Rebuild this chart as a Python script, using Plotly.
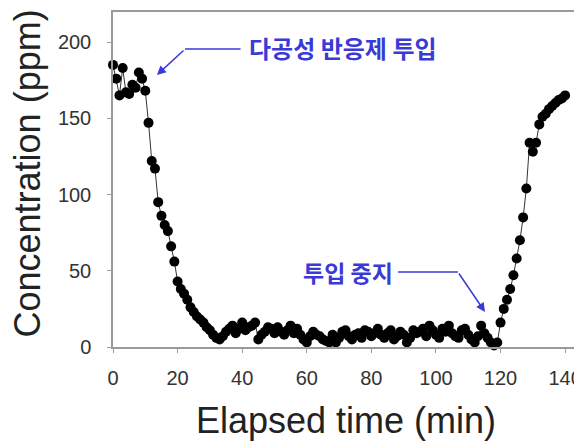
import plotly.graph_objects as go

# Elapsed time (min)
time_min = list(range(0, 141))

# Concentration (ppm)
conc_ppm = [
    185, 176, 165, 183, 167, 166, 172, 170, 180, 176,  # 0-9
    168, 147, 122, 117, 95, 86, 80, 76, 66, 56,        # 10-19
    43, 38, 35, 31, 26, 23, 20, 18, 16, 13,            # 20-29
    11, 8, 6, 5, 7, 10, 12, 14, 9, 12,                 # 30-39
    16, 11, 13, 14, 16, 5, 8, 10, 13, 12,              # 40-49
    9, 13, 10, 8, 11, 14, 9, 12, 8, 5,                 # 50-59
    3, 7, 10, 8, 7, 5, 4, 3, 8, 3,                     # 60-69
    6, 10, 11, 7, 5, 8, 9, 6, 11, 10,                  # 70-79
    7, 9, 12, 8, 6, 9, 11, 5, 7, 10,                   # 80-89
    8, 3, 6, 11, 9, 10, 12, 7, 14, 11,                 # 90-99
    8, 6, 12, 10, 14, 9, 7, 6, 11, 12,                 # 100-109
    8, 5, 3, 7, 14, 9, 6, 3, 1, 3,                     # 110-119
    16, 25, 31, 38, 47, 58, 70, 85, 104, 134,          # 120-129
    128, 134, 146, 151, 153, 156, 158, 160, 162, 163,  # 130-139
    165,                                               # 140
]

x_ticks = [0, 20, 40, 60, 80, 100, 120, 140]
y_ticks = [0, 50, 100, 150, 200]

x_title = "Elapsed time (min)"
y_title = "Concentration (ppm)"
note_start = "다공성 반응제 투입"
note_stop = "투입 중지"

ann_color = "#3a3ad6"
font_main = "Liberation Sans, Arial, sans-serif"
font_kr = "Noto Sans CJK KR, sans-serif"

fig = go.Figure()
fig.add_trace(go.Scatter(
    x=time_min, y=conc_ppm, mode="lines+markers",
    line=dict(color="#333333", width=1),
    marker=dict(color="black", size=10),
    cliponaxis=False, showlegend=False,
))

# annotation: start of dosing
fig.add_annotation(x=41.5, y=196.5, text=note_start, showarrow=False,
                   xanchor="left", yanchor="middle",
                   font=dict(family=font_kr, size=24, color=ann_color, weight=700))
fig.add_shape(type="line", x0=22.3, x1=39.5, y0=195.4, y1=195.4,
              line=dict(color=ann_color, width=1.5))
fig.add_annotation(x=13.6, y=178.4, ax=22.3, ay=195.4, axref="x", ayref="y",
                   text="", showarrow=True, arrowhead=2, arrowsize=1.2,
                   arrowwidth=1.5, arrowcolor=ann_color)

# annotation: stop of dosing
fig.add_annotation(x=87.3, y=49.2, text=note_stop, showarrow=False,
                   xanchor="right", yanchor="middle",
                   font=dict(family=font_kr, size=23, color=ann_color, weight=700))
fig.add_shape(type="line", x0=88.3, x1=106.8, y0=49.2, y1=49.2,
              line=dict(color=ann_color, width=1.5))
fig.add_annotation(x=115.2, y=23, ax=106.8, ay=49.2, axref="x", ayref="y",
                   text="", showarrow=True, arrowhead=2, arrowsize=1.2,
                   arrowwidth=1.5, arrowcolor=ann_color)

# axis titles as paper annotations
fig.add_annotation(xref="paper", yref="paper", x=0.5, y=0, yshift=-73,
                   text=x_title, showarrow=False, xanchor="center", yanchor="middle",
                   font=dict(family=font_main, size=36, color="#222222"))
fig.add_annotation(xref="paper", yref="paper", x=0, y=0.5, xshift=-86, yshift=6,
                   text=y_title, showarrow=False, textangle=-90,
                   xanchor="center", yanchor="middle",
                   font=dict(family=font_main, size=36, color="#222222"))

axis_common = dict(
    showline=True, mirror=True, linecolor="#9a9a9a", linewidth=1.5,
    showgrid=False, zeroline=False, ticks="outside", ticklen=4,
    tickcolor="#9a9a9a", tickfont=dict(family=font_main, size=20, color="#333333"),
    automargin=False,
)

fig.update_xaxes(range=[0, 144.3], tickvals=x_ticks, ticklabelstandoff=8, **axis_common)
fig.update_yaxes(range=[0, 219.7], tickvals=y_ticks, ticklabelstandoff=12, **axis_common)

# the page body adds an 8px margin; the figure is sized to fill the rest
fig.update_layout(
    width=574, height=433,
    margin=dict(l=105, r=3, t=4, b=94),
    plot_bgcolor="white", paper_bgcolor="white",
)

fig.write_html("out.html")
